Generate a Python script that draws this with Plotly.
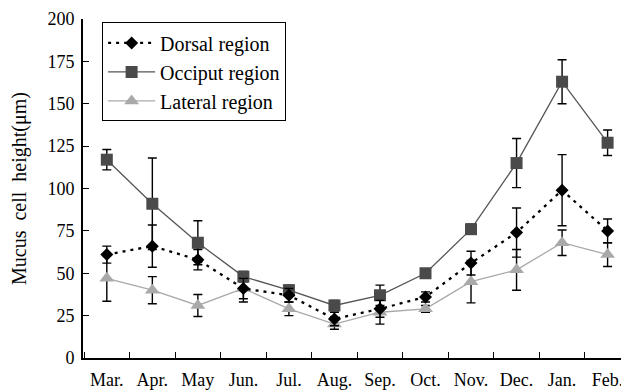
import plotly.graph_objects as go

months = ["Mar.", "Apr.", "May", "Jun.", "Jul.", "Aug.", "Sep.", "Oct.", "Nov.", "Dec.", "Jan.", "Feb."]

dorsal = [61, 66, 58, 41, 37, 23, 29, 36, 56, 74, 99, 75]
dorsal_err = [5, 12.5, 6, 6, 4, 4, 5, 3, 7, 14.5, 21, 7]

occiput = [117, 91, 68, 48, 40, 31, 37, 50, 76, 115, 163, 127]
occiput_err = [6, 27, 13, 3, 3, 3, 6, 2, 3, 14.5, 13, 7.5]

lateral = [47, 40, 31, 41, 29, 20, 27, 29, 45, 52, 68, 61]
lateral_err = [13.5, 8, 6.5, 8, 4, 3, 7, 2, 12.5, 12, 7.5, 7]

FONT = "Liberation Serif, Times New Roman, serif"

def err(vals):
    return dict(type="data", array=vals, visible=True, color="black", thickness=1.4, width=4.5)

fig = go.Figure()
fig.add_trace(go.Scatter(
    x=months, y=lateral, name="Lateral region", mode="lines+markers",
    line=dict(color="#a9a9a9", width=1.3),
    marker=dict(symbol="triangle-up", size=13, color="#a9a9a9"),
    error_y=err(lateral_err)))
fig.add_trace(go.Scatter(
    x=months, y=occiput, name="Occiput region", mode="lines+markers",
    line=dict(color="#555555", width=1.3),
    marker=dict(symbol="square", size=12, color="#4a4a4a"),
    error_y=err(occiput_err)))
fig.add_trace(go.Scatter(
    x=months, y=dorsal, name="Dorsal region", mode="lines+markers",
    line=dict(color="black", width=2.3, dash="3px,5px"),
    marker=dict(symbol="diamond", size=10, color="black"),
    error_y=err(dorsal_err)))

# page body has an 8px margin: figure is sized/offset to compensate
fig.update_layout(
    width=621, height=382,
    margin=dict(l=75, r=0, t=11, b=32),
    paper_bgcolor="white", plot_bgcolor="white",
    font=dict(family=FONT, size=18, color="black"),
    showlegend=True,
    legend=dict(
        x=0.035, y=0.99, xanchor="left", yanchor="top",
        bgcolor="white", bordercolor="black", borderwidth=1,
        font=dict(family=FONT, size=20, color="black"),
        traceorder="reversed", itemwidth=47, tracegroupgap=0,
    ),
    xaxis=dict(
        type="category", range=[-0.523, 11.47], automargin=False,
        showline=True, linecolor="black", linewidth=2,
        ticks="inside", ticklen=6, tickwidth=1.2, tickcolor="black",
        tickson="boundaries", showgrid=False, zeroline=False,
        ticklabelstandoff=4,
        tickfont=dict(family=FONT, size=18, color="black"),
    ),
    yaxis=dict(
        range=[0, 200], tickvals=[0, 25, 50, 75, 100, 125, 150, 175, 200],
        automargin=False,
        showline=True, linecolor="black", linewidth=2,
        ticks="inside", ticklen=6, tickwidth=1.2, tickcolor="black",
        showgrid=False, zeroline=False,
        ticklabelstandoff=3,
        tickfont=dict(family=FONT, size=18, color="black"),
        title=dict(text="Mucus  cell  height(μm)", font=dict(family=FONT, size=20, color="black"), standoff=22),
    ),
)

fig.write_html("out.html")
